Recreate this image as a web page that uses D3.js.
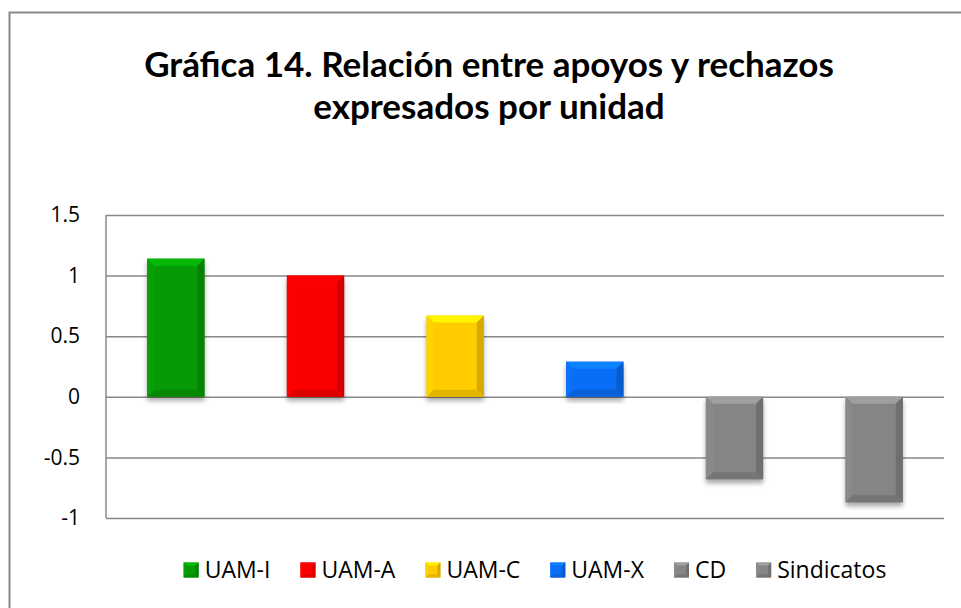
<!DOCTYPE html>
<html>
<head>
<meta charset="utf-8">
<script src="https://cdn.jsdelivr.net/npm/d3@7"></script>
<style>
  body { margin: 0; background: #fff; }
  svg { display: block; font-family: Lato, "Open Sans", sans-serif; }
</style>
</head>
<body>
<svg id="chart" width="961" height="608"></svg>
<script>
// data
const categories = ["UAM-I", "UAM-A", "UAM-C", "UAM-X", "CD", "Sindicatos"];
const values = [1.14, 1.0, 0.67, 0.29, -0.68, -0.87];
const colors = ["#069b06", "#fa0000", "#ffcc00", "#0a6df5", "#858585", "#858585"];
const yTicks = [-1, -0.5, 0, 0.5, 1, 1.5];
const titleLines = ["Gráfica 14. Relación entre apoyos y rechazos", "expresados por unidad"];

const data = categories.map((c, i) => ({ category: c, value: values[i], color: colors[i] }));

const svg = d3.select("#chart");
const margin = { top: 215, right: 17, bottom: 90, left: 106 };
const width = +svg.attr("width");
const height = +svg.attr("height");
const innerWidth = width - margin.left - margin.right;
const innerHeight = height - margin.top - margin.bottom;

// outer chart border (right and bottom edges fall outside the picture)
svg.append("path")
  .attr("d", `M9.5,${height} V12.5 H${width}`)
  .attr("fill", "none").attr("stroke", "#888").attr("stroke-width", 2);

const defs = svg.append("defs");
const shadow = defs.append("filter").attr("id", "shadow")
  .attr("x", "-20%").attr("y", "-20%").attr("width", "140%").attr("height", "140%");
shadow.append("feGaussianBlur").attr("in", "SourceAlpha").attr("stdDeviation", 2.5);
shadow.append("feOffset").attr("dx", 0).attr("dy", 4).attr("result", "b");
shadow.append("feComponentTransfer").append("feFuncA").attr("type", "linear").attr("slope", 0.35);

// title
svg.append("g").selectAll("text")
  .data(titleLines)
  .enter().append("text")
  .attr("x", 489)
  .attr("y", (d, i) => 77 + i * 42)
  .attr("text-anchor", "middle")
  .attr("font-weight", "bold")
  .attr("font-size", 35)
  .attr("fill", "#000")
  .text((d) => d);

const xScale = d3.scaleBand()
  .domain(categories)
  .range([0, innerWidth])
  .paddingInner(0.59)
  .paddingOuter(0.295);

const yScale = d3.scaleLinear()
  .domain([-1, 1.5])
  .range([innerHeight, 0]);

const g = svg.append("g")
  .attr("transform", `translate(${margin.left},${margin.top})`);

// gridlines + y axis labels
const yAxis = d3.axisLeft(yScale)
  .tickValues(yTicks)
  .tickSize(-innerWidth)
  .tickPadding(26)
  .tickFormat((d) => String(d));

const yAxisG = g.append("g").call(yAxis);
yAxisG.select(".domain").remove();
yAxisG.selectAll(".tick line").attr("stroke", "#888").attr("stroke-width", 1.5);
yAxisG.selectAll(".tick text")
  .attr("font-size", 21)
  .attr("font-family", "'Open Sans', sans-serif")
  .attr("fill", "#000");

// vertical axis line
g.append("line")
  .attr("x1", 0).attr("x2", 0)
  .attr("y1", 0).attr("y2", innerHeight)
  .attr("stroke", "#888").attr("stroke-width", 1.5);

// bevelled bar helper
function bevelBar(sel, x, y, w, h, color, b, withShadow) {
  const c = d3.color(color);
  if (withShadow) {
    sel.append("rect")
      .attr("x", x).attr("y", y).attr("width", w).attr("height", h)
      .attr("fill", color).attr("filter", "url(#shadow)");
  }
  sel.append("rect")
    .attr("x", x).attr("y", y).attr("width", w).attr("height", h)
    .attr("fill", color);
  const pts = (arr) => arr.map((p) => p.join(",")).join(" ");
  // top (light)
  sel.append("polygon")
    .attr("points", pts([[x, y], [x + w, y], [x + w - b, y + b], [x + b, y + b]]))
    .attr("fill", c.brighter(0.5));
  // left
  sel.append("polygon")
    .attr("points", pts([[x, y], [x + b, y + b], [x + b, y + h - b], [x, y + h]]))
    .attr("fill", c.brighter(0.1));
  // right (dark)
  sel.append("polygon")
    .attr("points", pts([[x + w, y], [x + w, y + h], [x + w - b, y + h - b], [x + w - b, y + b]]))
    .attr("fill", c.darker(0.5));
  // bottom (dark)
  sel.append("polygon")
    .attr("points", pts([[x, y + h], [x + b, y + h - b], [x + w - b, y + h - b], [x + w, y + h]]))
    .attr("fill", c.darker(0.35));
}

const bars = g.append("g");
data.forEach((d) => {
  const x = xScale(d.category);
  const y = yScale(Math.max(0, d.value));
  const h = Math.abs(yScale(d.value) - yScale(0));
  bevelBar(bars.append("g"), x, y, xScale.bandwidth(), h, d.color, 7, true);
});

// legend
const legend = svg.append("g").attr("transform", "translate(0,570)");
const items = legend.selectAll("g")
  .data(data)
  .enter().append("g");

items.append("text")
  .attr("font-size", 23)
  .attr("font-family", "'Open Sans', sans-serif")
  .attr("y", 8)
  .attr("fill", "#000")
  .text((d) => d.category);

let widths = [];
items.selectAll("text").each(function () { widths.push(this.getComputedTextLength()); });
const sw = 15, swGap = 6, itemGap = 30;
const total = d3.sum(widths) + data.length * (sw + swGap) + (data.length - 1) * itemGap;
let cursor = 535 - total / 2;
items.each(function (d, i) {
  const it = d3.select(this);
  it.attr("transform", `translate(${cursor},0)`);
  const sq = it.insert("g", "text");
  bevelBar(sq, 0, -sw / 2, sw, sw, d.color, 3, false);
  it.select("text").attr("x", sw + swGap);
  cursor += sw + swGap + widths[i] + itemGap;
});
</script>
</body>
</html>
